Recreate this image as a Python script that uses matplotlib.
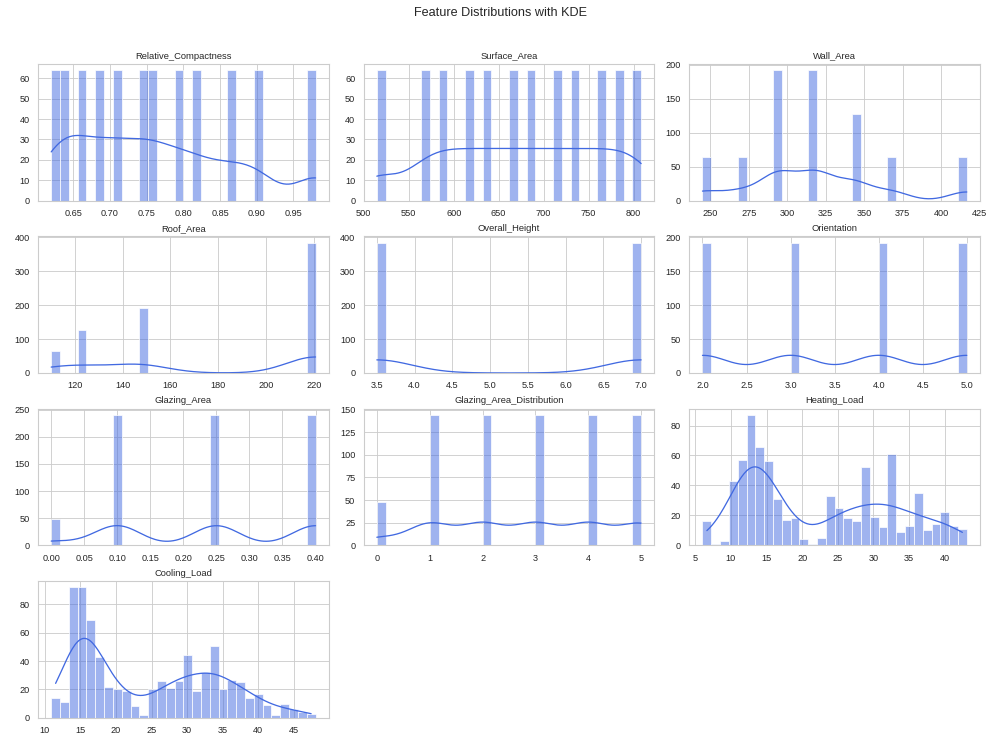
import numpy as np
import matplotlib
matplotlib.use("Agg")
import matplotlib.pyplot as plt
import seaborn as sns

# distinct values and how many rows take each value
rc_values = [0.62, 0.64, 0.66, 0.69, 0.71, 0.74, 0.76, 0.79, 0.82, 0.86, 0.90, 0.98]
rc_counts = [64] * 12
sa_values = [514.5, 563.5, 588.0, 612.5, 637.0, 661.5, 686.0, 710.5, 735.0, 759.5, 784.0, 808.5]
sa_counts = [64] * 12
wa_values = [245.0, 269.5, 294.0, 318.5, 343.0, 367.5, 416.5]
wa_counts = [64, 64, 192, 192, 128, 64, 64]
ra_values = [110.25, 122.5, 147.0, 220.5]
ra_counts = [64, 128, 192, 384]
oh_values = [3.5, 7.0]
oh_counts = [384, 384]
or_values = [2, 3, 4, 5]
or_counts = [192, 192, 192, 192]
ga_values = [0.0, 0.10, 0.25, 0.40]
ga_counts = [48, 240, 240, 240]
gad_values = [0, 1, 2, 3, 4, 5]
gad_counts = [48, 144, 144, 144, 144, 144]

# continuous targets: 30 bin counts, with data range
heat_range = (6.01, 43.10)
heat_counts = [16, 1, 3, 43, 57, 87, 66, 56, 31, 17, 18, 4, 1, 5, 33,
               25, 18, 16, 52, 19, 12, 61, 9, 13, 35, 10, 14, 22, 13, 11]
cool_range = (10.90, 48.03)
cool_counts = [14, 11, 92, 92, 69, 43, 22, 20, 19, 8, 2, 20, 26, 21, 26,
               44, 19, 32, 51, 20, 27, 25, 14, 17, 9, 2, 10, 6, 4, 3]


def binned_samples(rng, counts):
    edges = np.linspace(rng[0], rng[1], len(counts) + 1)
    centers = (edges[:-1] + edges[1:]) / 2
    return np.repeat(centers, counts)


features = {
    "Relative_Compactness": np.repeat(rc_values, rc_counts),
    "Surface_Area": np.repeat(sa_values, sa_counts),
    "Wall_Area": np.repeat(wa_values, wa_counts),
    "Roof_Area": np.repeat(ra_values, ra_counts),
    "Overall_Height": np.repeat(oh_values, oh_counts),
    "Orientation": np.repeat(or_values, or_counts),
    "Glazing_Area": np.repeat(ga_values, ga_counts),
    "Glazing_Area_Distribution": np.repeat(gad_values, gad_counts),
    "Heating_Load": binned_samples(heat_range, heat_counts),
    "Cooling_Load": binned_samples(cool_range, cool_counts),
}
ranges = {"Heating_Load": heat_range, "Cooling_Load": cool_range}

sns.set_theme(style="whitegrid")
plt.rcParams["font.family"] = ["Liberation Sans", "DejaVu Sans"]
fig, axes = plt.subplots(4, 3, figsize=(16, 12), dpi=62.5)
axes = axes.flatten()

for i, (name, data) in enumerate(features.items()):
    ax = axes[i]
    sns.histplot(data, bins=30, kde=True, color="royalblue", ax=ax,
                 binrange=ranges.get(name))
    ax.set_title(name, fontsize=10.8)
    ax.set_xlabel("")
    ax.set_ylabel("")
    ax.tick_params(labelsize=10.5)

for j in range(len(features), len(axes)):
    fig.delaxes(axes[j])

fig.suptitle("Feature Distributions with KDE", fontsize=14.5, y=0.99)
plt.subplots_adjust(left=0.038, right=0.98, top=0.915, bottom=0.043,
                    hspace=0.26, wspace=0.12)
plt.savefig("out.png", dpi=62.5)
